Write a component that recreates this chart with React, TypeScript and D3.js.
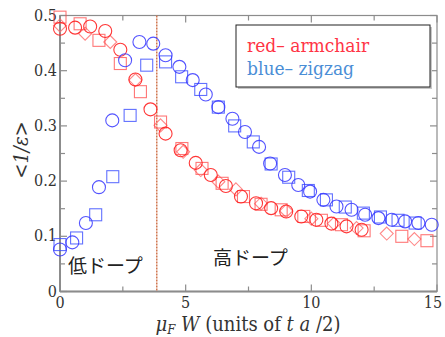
import React, { useRef, useEffect } from 'react'
import { select, scaleLinear, range } from 'd3'

// values
const redCircleX = [0, 0.6, 1.2, 1.8, 2.4, 3.0, 3.6, 4.2, 4.8, 5.4, 6.0, 6.6, 7.2, 7.8, 8.4, 9.0, 9.6, 10.2, 10.8, 11.4, 12.0]
const redCircleY = [0.476, 0.478, 0.48, 0.472, 0.438, 0.384, 0.33, 0.286, 0.256, 0.233, 0.211, 0.191, 0.172, 0.16, 0.151, 0.145, 0.136, 0.13, 0.123, 0.118, 0.112]

const redSquareX = [0, 0.8, 1.55, 2.4, 3.2, 4.0, 4.85, 5.65, 6.45, 7.3, 8.0, 8.8, 9.7, 10.4, 11.2, 12.1, 13.6, 14.6]
const redSquareY = [0.497, 0.485, 0.455, 0.413, 0.362, 0.307, 0.259, 0.223, 0.196, 0.172, 0.158, 0.148, 0.136, 0.129, 0.121, 0.11, 0.1, 0.092]

const redDiamondX = [0, 1.0, 2.0, 3.0, 4.0, 4.9, 5.6, 6.3, 7.0, 8.0, 9.0, 10.0, 10.9, 11.8, 13.0, 14.1]
const redDiamondY = [0.482, 0.467, 0.452, 0.383, 0.301, 0.253, 0.22, 0.199, 0.185, 0.159, 0.146, 0.132, 0.123, 0.115, 0.105, 0.095]

const blueCircleX = [0, 0.49, 1.03, 1.55, 2.08, 2.59, 3.16, 3.71, 4.2, 4.75, 5.28, 5.8, 6.3, 6.86, 7.36, 7.92, 8.36, 8.95, 9.48, 9.95, 10.48, 11.0, 11.6, 12.14, 12.67, 13.2, 13.73, 14.26, 14.79]
const blueCircleY = [0.076, 0.089, 0.124, 0.189, 0.31, 0.419, 0.452, 0.449, 0.428, 0.407, 0.383, 0.357, 0.334, 0.313, 0.289, 0.262, 0.232, 0.211, 0.193, 0.181, 0.166, 0.154, 0.148, 0.139, 0.133, 0.13, 0.127, 0.124, 0.121]

const blueSquareX = [0, 0.66, 1.42, 2.1, 2.79, 3.45, 4.2, 4.84, 5.6, 6.3, 6.95, 7.69, 8.4, 9.1, 9.88, 10.6, 11.35, 12.07, 12.75, 13.45, 14.13]
const blueSquareY = [0.085, 0.097, 0.139, 0.208, 0.319, 0.41, 0.416, 0.389, 0.366, 0.334, 0.3, 0.271, 0.231, 0.207, 0.183, 0.166, 0.153, 0.142, 0.135, 0.129, 0.124]

const xTicks = [0, 5, 10, 15]
const yTicks = [0, 0.1, 0.2, 0.3, 0.4, 0.5]
const yTickLabels = ['0', '0.1', '0.2', '0.3', '0.4', '0.5']
const dopingBoundary = 3.85

function App() {
  const svgRef = useRef<SVGSVGElement>(null)

  useEffect(() => {
    const left = 60, right = 437, top = 15.5, bottom = 291.5
    const svg = select(svgRef.current)
    svg.selectAll('*').remove()

    const x = scaleLinear().domain([0, 15]).range([left, right])
    const y = scaleLinear().domain([0, 0.5]).range([bottom, top])
    const axisColor = '#8c8c8c'
    const serif = 'DejaVu Serif'

    // frame
    svg.append('rect')
      .attr('x', left).attr('y', top)
      .attr('width', right - left).attr('height', bottom - top)
      .attr('fill', 'none').attr('stroke', axisColor).attr('stroke-width', 1.2)
    svg.append('line')
      .attr('x1', left).attr('x2', left).attr('y1', top).attr('y2', bottom)
      .attr('stroke', axisColor).attr('stroke-width', 2)
    svg.append('line')
      .attr('x1', left).attr('x2', right).attr('y1', bottom).attr('y2', bottom)
      .attr('stroke', axisColor).attr('stroke-width', 2)

    // ticks, all inside
    const xMinor = range(0, 15.01, 2.5)
    const yMinor = range(0, 0.501, 0.05)
    xMinor.forEach(v => {
      const len = Math.abs(v % 5) < 1e-6 ? 7 : 5
      svg.append('line').attr('x1', x(v)).attr('x2', x(v)).attr('y1', bottom).attr('y2', bottom - len)
        .attr('stroke', axisColor).attr('stroke-width', 1.2)
      svg.append('line').attr('x1', x(v)).attr('x2', x(v)).attr('y1', top).attr('y2', top + len)
        .attr('stroke', axisColor).attr('stroke-width', 1.2)
    })
    yMinor.forEach((v, i) => {
      const len = i % 2 === 0 ? 7 : 5
      svg.append('line').attr('x1', left).attr('x2', left + len).attr('y1', y(v)).attr('y2', y(v))
        .attr('stroke', axisColor).attr('stroke-width', 1.2)
      svg.append('line').attr('x1', right).attr('x2', right - len).attr('y1', y(v)).attr('y2', y(v))
        .attr('stroke', axisColor).attr('stroke-width', 1.2)
    })

    svg.selectAll('.xlab').data(xTicks).enter().append('text')
      .attr('x', d => Math.min(x(d), 433)).attr('y', 308)
      .attr('text-anchor', 'middle').attr('font-family', serif).attr('font-stretch', 'condensed')
      .attr('font-size', 16).attr('fill', '#333').text(d => d)
    svg.selectAll('.ylab').data(yTicks).enter().append('text')
      .attr('x', 57).attr('y', d => y(d) + 5)
      .attr('text-anchor', 'end').attr('font-family', serif).attr('font-stretch', 'condensed')
      .attr('font-size', 16).attr('fill', '#333').text((d, i) => yTickLabels[i])

    // doping boundary
    svg.append('line')
      .attr('x1', x(dopingBoundary)).attr('x2', x(dopingBoundary))
      .attr('y1', top).attr('y2', bottom)
      .attr('stroke', '#d0764f').attr('stroke-width', 1.5).attr('stroke-dasharray', '2,1')

    const circles = (xs: number[], ys: number[], color: string, op: number) => {
      svg.append('g').selectAll('circle').data(xs).enter().append('circle')
        .attr('cx', d => x(d)).attr('cy', (d, i) => y(ys[i])).attr('r', 6.5)
        .attr('fill', 'none').attr('stroke', color).attr('stroke-width', 1.1).attr('opacity', op)
    }
    const squares = (xs: number[], ys: number[], color: string, op: number) => {
      svg.append('g').selectAll('rect').data(xs).enter().append('rect')
        .attr('x', d => x(d) - 6).attr('y', (d, i) => y(ys[i]) - 6)
        .attr('width', 12).attr('height', 12)
        .attr('fill', 'none').attr('stroke', color).attr('stroke-width', 1.1).attr('opacity', op)
    }
    const diamonds = (xs: number[], ys: number[], color: string, op: number) => {
      svg.append('g').selectAll('path').data(xs).enter().append('path')
        .attr('d', (d, i) => {
          const cx = x(d), cy = y(ys[i]), s = 6.5
          return `M${cx},${cy - s}L${cx + s},${cy}L${cx},${cy + s}L${cx - s},${cy}Z`
        })
        .attr('fill', 'none').attr('stroke', color).attr('stroke-width', 1.1).attr('opacity', op)
    }

    diamonds(redDiamondX, redDiamondY, '#ff6a6a', 0.8)
    squares(redSquareX, redSquareY, '#ff4a4a', 0.75)
    circles(redCircleX, redCircleY, '#ff2020', 0.9)
    squares(blueSquareX, blueSquareY, '#3b4dff', 0.8)
    circles(blueCircleX, blueCircleY, '#3535ff', 0.85)

    // legend
    svg.append('rect').attr('x', 238).attr('y', 27).attr('width', 194).attr('height', 62).attr('fill', '#c8c8c8')
    svg.append('rect').attr('x', 236).attr('y', 25).attr('width', 194).attr('height', 62)
      .attr('fill', '#fff').attr('stroke', '#222').attr('stroke-width', 1)
    svg.append('text').attr('x', 247).attr('y', 52).attr('font-family', serif).attr('font-stretch', 'condensed')
      .attr('font-size', 19).attr('fill', '#ff3344').text('red– armchair')
    svg.append('text').attr('x', 247).attr('y', 75).attr('font-family', serif).attr('font-stretch', 'condensed')
      .attr('font-size', 19).attr('fill', '#4a8ed6').text('blue– zigzag')

    // region labels
    const jp = 'Noto Sans CJK JP'
    svg.append('text').attr('x', 68).attr('y', 273).attr('font-family', jp).attr('font-size', 19)
      .attr('fill', '#222').text('低ドープ')
    svg.append('text').attr('x', 213).attr('y', 265).attr('font-family', jp).attr('font-size', 19)
      .attr('fill', '#222').text('高ドープ')

    // axis titles
    const yt = svg.append('text').attr('transform', 'translate(28,150) rotate(-90)')
      .attr('text-anchor', 'middle').attr('font-family', serif).attr('font-stretch', 'condensed')
      .attr('font-size', 20).attr('fill', '#333')
    yt.append('tspan').text('<')
    yt.append('tspan').attr('font-style', 'italic').text('1/ε')
    yt.append('tspan').text('>')

    const xt = svg.append('text').attr('x', 248).attr('y', 331)
      .attr('text-anchor', 'middle').attr('font-family', serif).attr('font-stretch', 'condensed')
      .attr('font-size', 20).attr('fill', '#333')
    xt.append('tspan').attr('font-style', 'italic').text('μ')
    xt.append('tspan').attr('font-style', 'italic').attr('font-size', 13).attr('dy', 3).text('F')
    xt.append('tspan').attr('font-style', 'italic').attr('dy', -3).text(' W')
    xt.append('tspan').text(' (units of  ')
    xt.append('tspan').attr('font-style', 'italic').text('t a')
    xt.append('tspan').text(' /2)')
  }, [])

  return (
    <svg ref={svgRef} width={445} height={337}
      style={{ position: 'absolute', left: 0, top: 0, background: '#fff' }}>
    </svg>
  )
}

export default App
